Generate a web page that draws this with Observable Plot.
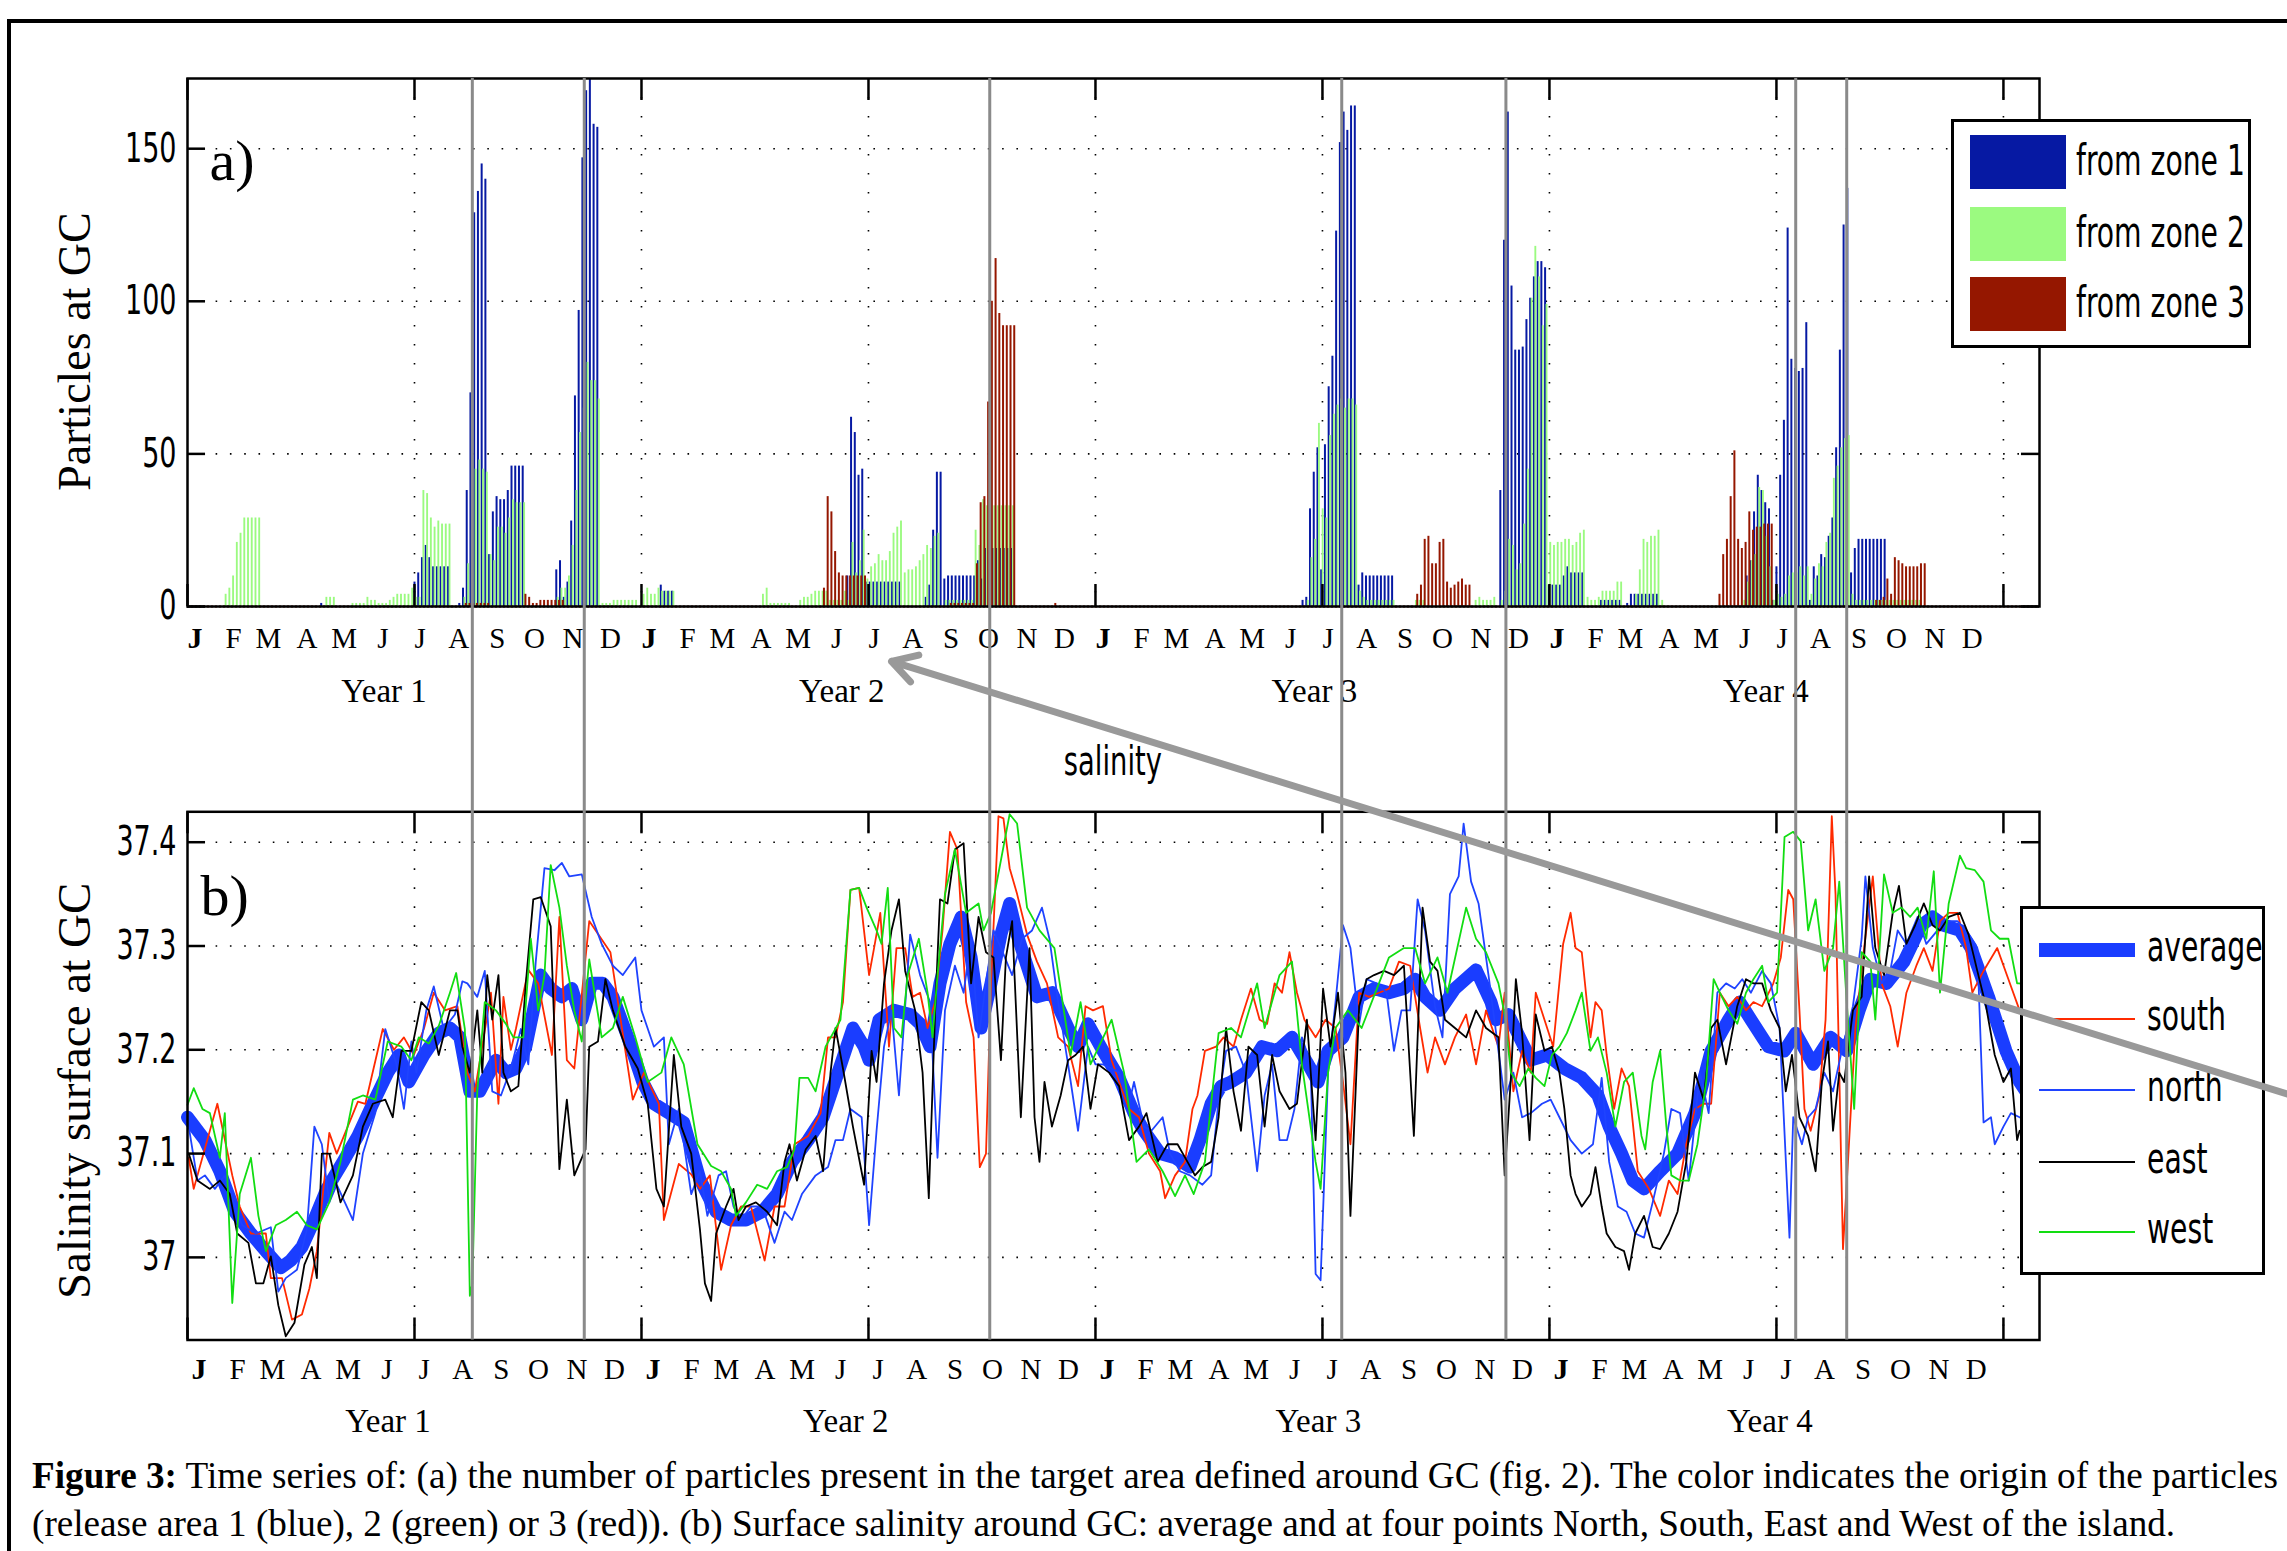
<!DOCTYPE html>
<html><head><meta charset="utf-8">
<script src="https://cdn.jsdelivr.net/npm/d3@7"></script>
<script src="https://cdn.jsdelivr.net/npm/@observablehq/plot@0.6"></script>
<style>
html,body{margin:0;padding:0;background:#fff;}
#fig{position:relative;width:2287px;height:1551px;overflow:hidden;background:#fff;}
#fig > svg{position:absolute;left:0;}
.lg{position:absolute;box-sizing:border-box;border:3px solid #000;background:#fff;}
.lgtext{position:absolute;font-family:"Liberation Sans Narrow","Arial Narrow","DejaVu Sans Condensed",sans-serif;font-size:43px;line-height:1;white-space:nowrap;color:#000;transform:scaleX(0.73);transform-origin:0 50%;}
#caption{position:absolute;left:32px;top:1452px;font-family:"Liberation Serif","Times New Roman",serif;font-size:37.2px;line-height:48px;white-space:nowrap;color:#000;}
#outer{position:absolute;left:7px;top:19px;width:2400px;height:1700px;border:4px solid #000;box-sizing:border-box;}
</style></head><body><div id="fig"><div id="outer"></div></div><script>
const W = 2287, H = 1551;
const SERIF = '"Liberation Serif","Times New Roman",serif';
const NARROW = '"Liberation Sans Narrow","Arial Narrow","DejaVu Sans Condensed",sans-serif';

// ---- labels / ticks ----
const monthLetters = ["J","F","M","A","M","J","J","A","S","O","N","D"];
const monthStartDays = [0,31,59,90,120,151,181,212,243,273,304,334];
const yearNames = ["Year 1","Year 2","Year 3","Year 4"];
const yearLabelDays = [158, 526, 906, 1269];
const gridDays = [0,182.5,365,547.5,730,912.5,1095,1277.5,1460];
const eventDays = [229,319,645,928,1060,1293,1334];
const particleTicks = [0,50,100,150];
const salinityTicks = [37,37.1,37.2,37.3,37.4];
const zoneNames = ["from zone 1","from zone 2","from zone 3"];
const zoneColors = ["#0619a3","#9bfa80","#951700"];
const seriesNames = ["average","south","north","east","west"];
const seriesColors = ["#1a3dff","#ff2a00","#1f43ff","#000000","#12dd12"];

// ---- panel a: particles, runs of 3-day samples [first sample index, values] ----
const zone1Runs = [[36,[1]],[61,[8,11,16,20,16,13,13,13,13,13]],[73,[1,6,38,70,129,136,145,140,17,31,36,35,35,38,46,46,46,46]],[99,[12,15,3,8,28,69,97,147,169,173,158,157]],[127,[7,5,5,5]],[177,[10,62,57,43,45,8,8,8,8,8,8,8,8,8,8]],[198,[3,7,25,44,44,9,10,10,10,10,10,10,10,10,15,9,19,19,19,19,19,19,19,19]],[299,[2,3,32,44,52,12,53,72,82,123,152,162,156,164,164,7,11,10,10,10,10,10,10,10,10]],[352,[38,120,162,105,84,84,85,94,101,108,113,113,111,7,7,7,7,10,13,11,11,11,11]],[379,[2,2,2,2,2,2]],[386,[1,4,4,4,4,4,4,4,4]],[418,[10,15,31,43,38,34,32,2,13,43,61,124,81,78,77,78,93,2,13,10,17,16,23,29,52,84,125,137,11,19,22,22,22,22,22,22,22,22]]];
const zone2Runs = [[10,[4,6,10,21,24,29,29,29,29,29]],[37,[3,3,3]],[44,[1,1,1,1,3,2,2,1,1,1,2,3,4,4,4,4,6]],[61,[3,3,38,37,29,26,28,27,27,27]],[74,[3,14,25,45,48,45,44,17,15,26,26,24,29,35,34,34,34]],[99,[3,6,6,10,20,38,57,65,80,74,74,68,1,1,1,2,2,2,2,2,2,2]],[122,[4,6,4,4,6,5,5,5,5]],[154,[4,6,1,1,1,1,1,1]],[164,[2,3,3,4,5,5,5,5,2,2,2,2,5,2,21,11,15,25,9,13,14,17,15,15,18,24,26,28,11,12,12,13,15,17,20,19,23,24]],[203,[2,2,2,2,2,2,2,2,25,20,35,33,33,33,33,33,33,33,33]],[300,[2,16,22,60,32,29,56,63,66,68,65,68,68,66,5,3,2,2,2,2,2,2,2,2]],[329,[2,2,2]],[345,[2,3,2,2,2,3]],[352,[2,5,22,20,12,14,27,45,101,118,108,92,99,21,20,21,21,22,22,20,21,24,25,3,2,2,3,5,5,5,5,8,8]],[388,[4,12,22,21,23,23,25,2]],[417,[2,8,15,17,39,38,23,13,2,4,3,4,10,11,11,13,10,13,4,9,14,13,21,24,42,46,52,55,56,4,2,2,2,2,2,2,2,2,2,2,2,2,2,2,2,2,2,2]]];
const zone3Runs = [[74,[1,1,1,1,1,1,1]],[90,[4,3,1,1,2,2,2,2,2,2,2]],[170,[6,36,31,18,11,10,10,10,10,10,10,10]],[204,[1,1,1,1,1,1,1,14,34,36,67,100,114,96,92,92,92,92]],[232,[1]],[329,[4,7,22,23,14,14,21,22,8,6,7,8,9,7,7]],[410,[4,17,22,36,51,22,19,21,31,25,26,26,27,27,27]],[452,[2,2,3,9,4,16,15,14,13,13,13,13,14,14]]];

// ---- panel b: salinity series [day, value] ----
const average = [[0,37.135],[14,37.113],[26,37.083],[38,37.044],[51,37.023],[63,37.006],[75,36.99],[83,36.997],[92,37.01],[100,37.031],[112,37.066],[125,37.092],[137,37.117],[149,37.148],[161,37.178],[170,37.195],[178,37.169],[190,37.195],[202,37.216],[211,37.221],[219,37.212],[227,37.16],[235,37.16],[248,37.19],[256,37.178],[264,37.182],[272,37.203],[284,37.272],[292,37.259],[301,37.251],[309,37.259],[317,37.229],[325,37.264],[334,37.264],[342,37.251],[354,37.212],[366,37.169],[375,37.148],[387,37.139],[399,37.13],[412,37.075],[425,37.044],[437,37.036],[449,37.036],[462,37.044],[474,37.061],[486,37.092],[499,37.113],[511,37.135],[523,37.178],[535,37.221],[544,37.203],[548,37.19],[556,37.229],[568,37.238],[581,37.234],[589,37.225],[597,37.203],[605,37.264],[613,37.302],[622,37.328],[630,37.289],[638,37.221],[646,37.264],[654,37.311],[661,37.341],[667,37.311],[675,37.281],[683,37.251],[695,37.255],[708,37.221],[716,37.203],[724,37.225],[736,37.199],[749,37.173],[761,37.139],[769,37.122],[782,37.1],[794,37.096],[806,37.087],[814,37.113],[823,37.148],[831,37.165],[839,37.169],[851,37.178],[864,37.203],[876,37.199],[888,37.212],[901,37.186],[909,37.169],[917,37.199],[929,37.212],[942,37.251],[954,37.259],[966,37.255],[978,37.259],[987,37.268],[995,37.251],[1007,37.238],[1019,37.259],[1036,37.277],[1048,37.246],[1052,37.229],[1062,37.234],[1071,37.212],[1080,37.19],[1093,37.195],[1107,37.182],[1121,37.173],[1134,37.156],[1143,37.126],[1153,37.1],[1162,37.074],[1171,37.066],[1184,37.083],[1198,37.1],[1212,37.139],[1225,37.199],[1239,37.229],[1248,37.246],[1257,37.229],[1271,37.203],[1284,37.199],[1293,37.216],[1307,37.186],[1321,37.212],[1334,37.199],[1344,37.238],[1353,37.268],[1366,37.264],[1380,37.285],[1394,37.32],[1403,37.328],[1412,37.32],[1425,37.315],[1434,37.298],[1448,37.251],[1462,37.199],[1473,37.169],[1489,37.14]];
const south = [[1,37.096],[5,37.066],[24,37.148],[36,37.079],[42,37.049],[51,37.023],[63,37.023],[67,36.98],[76,36.98],[84,36.94],[92,36.945],[98,36.97],[104,37.006],[114,37.12],[120,37.1],[137,37.15],[143,37.148],[157,37.22],[166,37.2],[174,37.212],[182,37.195],[190,37.22],[198,37.255],[207,37.238],[217,37.242],[225,37.178],[231,37.16],[244,37.255],[250,37.148],[254,37.251],[260,37.2],[264,37.22],[274,37.277],[282,37.264],[293,37.195],[299,37.328],[305,37.19],[311,37.182],[323,37.324],[340,37.294],[358,37.152],[367,37.178],[379,37.148],[383,37.036],[395,37.09],[405,37.08],[412,37.066],[420,37.079],[429,36.988],[437,37.031],[445,37.049],[453,37.049],[464,36.997],[472,37.049],[480,37.049],[488,37.109],[499,37.117],[509,37.139],[515,37.212],[521,37.212],[527,37.246],[533,37.354],[540,37.356],[548,37.272],[552,37.298],[557,37.332],[564,37.203],[570,37.298],[577,37.298],[583,37.251],[589,37.255],[595,37.221],[601,37.246],[607,37.315],[613,37.41],[619,37.393],[626,37.246],[632,37.212],[637,37.087],[642,37.1],[646,37.264],[652,37.425],[656,37.423],[661,37.375],[667,37.35],[675,37.311],[683,37.285],[691,37.264],[700,37.212],[708,37.203],[716,37.165],[722,37.242],[728,37.238],[736,37.242],[743,37.19],[749,37.169],[757,37.143],[765,37.135],[773,37.1],[782,37.083],[786,37.057],[794,37.079],[802,37.092],[808,37.143],[812,37.156],[818,37.199],[827,37.203],[833,37.212],[841,37.203],[847,37.229],[855,37.259],[862,37.229],[868,37.225],[874,37.264],[880,37.255],[886,37.294],[892,37.255],[898,37.229],[907,37.212],[915,37.229],[923,37.221],[929,37.169],[935,37.109],[942,37.255],[950,37.251],[958,37.255],[966,37.259],[974,37.285],[983,37.281],[991,37.221],[997,37.178],[1003,37.212],[1011,37.186],[1019,37.212],[1028,37.234],[1036,37.186],[1044,37.238],[1054,37.203],[1059,37.255],[1066,37.16],[1073,37.199],[1080,37.178],[1084,37.255],[1091,37.229],[1098,37.203],[1106,37.302],[1112,37.332],[1116,37.298],[1121,37.294],[1128,37.212],[1132,37.246],[1137,37.238],[1141,37.195],[1147,37.143],[1153,37.182],[1159,37.165],[1166,37.083],[1175,37.066],[1184,37.04],[1191,37.074],[1198,37.061],[1205,37.109],[1212,37.143],[1219,37.148],[1225,37.148],[1232,37.255],[1239,37.242],[1246,37.251],[1253,37.238],[1259,37.246],[1266,37.242],[1275,37.264],[1281,37.289],[1287,37.354],[1291,37.345],[1296,37.238],[1300,37.143],[1305,37.122],[1312,37.156],[1317,37.229],[1322,37.425],[1325,37.35],[1331,37.008],[1335,37.092],[1341,37.221],[1348,37.298],[1355,37.367],[1362,37.264],[1369,37.242],[1375,37.203],[1382,37.255],[1390,37.281],[1396,37.298],[1403,37.276],[1409,37.324],[1416,37.332],[1423,37.332],[1430,37.298],[1435,37.255],[1444,37.276],[1455,37.298],[1464,37.268],[1473,37.238],[1489,37.2]];
const north = [[1,37.126],[8,37.074],[14,37.079],[22,37.066],[30,37.079],[38,37.049],[44,37.031],[55,37.023],[67,37.029],[73,36.967],[79,36.98],[88,36.988],[96,37.027],[102,37.126],[108,37.109],[114,37.053],[120,37.07],[133,37.036],[141,37.1],[151,37.139],[159,37.22],[168,37.186],[174,37.143],[180,37.208],[184,37.178],[192,37.238],[198,37.261],[206,37.22],[215,37.234],[221,37.266],[225,37.264],[233,37.251],[239,37.276],[245,37.16],[252,37.156],[260,37.182],[268,37.22],[274,37.186],[280,37.285],[287,37.375],[295,37.373],[301,37.38],[307,37.367],[317,37.369],[325,37.328],[333,37.302],[342,37.281],[350,37.272],[360,37.289],[365,37.238],[375,37.203],[383,37.212],[387,37.109],[395,37.143],[405,37.061],[412,37.083],[418,37.04],[427,37.079],[433,37.083],[439,37.049],[445,37.036],[453,37.049],[462,37.049],[472,37.014],[480,37.044],[486,37.036],[494,37.061],[505,37.079],[515,37.087],[521,37.113],[527,37.113],[533,37.143],[542,37.135],[548,37.031],[554,37.122],[560,37.203],[566,37.238],[572,37.156],[581,37.311],[589,37.272],[597,37.246],[603,37.096],[609,37.238],[617,37.281],[624,37.255],[630,37.307],[636,37.212],[642,37.264],[648,37.315],[654,37.298],[663,37.272],[671,37.307],[679,37.315],[687,37.337],[693,37.307],[700,37.246],[708,37.186],[716,37.122],[724,37.203],[730,37.186],[736,37.186],[743,37.182],[749,37.178],[757,37.148],[761,37.169],[769,37.126],[775,37.122],[784,37.135],[790,37.1],[798,37.083],[806,37.079],[816,37.07],[823,37.079],[829,37.152],[835,37.199],[843,37.203],[851,37.178],[860,37.083],[866,37.156],[872,37.186],[878,37.113],[884,37.113],[890,37.143],[896,37.212],[903,37.186],[907,36.984],[911,36.978],[917,37.178],[923,37.246],[929,37.32],[935,37.298],[942,37.225],[948,37.268],[956,37.264],[964,37.255],[970,37.199],[976,37.238],[983,37.238],[989,37.345],[995,37.315],[1003,37.242],[1009,37.212],[1015,37.35],[1022,37.367],[1026,37.418],[1032,37.362],[1038,37.341],[1046,37.272],[1054,37.199],[1059,37.152],[1066,37.178],[1073,37.135],[1080,37.139],[1089,37.148],[1096,37.152],[1103,37.135],[1112,37.113],[1121,37.1],[1130,37.109],[1137,37.173],[1143,37.092],[1150,37.049],[1157,37.044],[1164,37.023],[1171,37.019],[1178,37.053],[1187,37.1],[1193,37.143],[1200,37.139],[1207,37.074],[1216,37.178],[1223,37.139],[1230,37.255],[1237,37.264],[1244,37.259],[1250,37.268],[1257,37.255],[1266,37.276],[1273,37.264],[1280,37.221],[1288,37.019],[1291,37.135],[1298,37.109],[1303,37.135],[1309,37.143],[1316,37.178],[1323,37.16],[1330,37.199],[1339,37.242],[1346,37.307],[1349,37.367],[1355,37.298],[1362,37.264],[1369,37.276],[1375,37.315],[1382,37.302],[1391,37.328],[1398,37.302],[1407,37.315],[1414,37.324],[1423,37.324],[1430,37.315],[1439,37.298],[1444,37.13],[1450,37.135],[1453,37.109],[1460,37.126],[1466,37.139],[1473,37.135],[1489,37.13]];
const east = [[1,37.1],[8,37.074],[18,37.066],[26,37.074],[34,37.061],[40,37.023],[49,37.014],[55,36.975],[61,36.975],[67,37.001],[73,36.954],[79,36.924],[86,36.937],[94,36.993],[100,37.01],[104,36.98],[108,37.1],[114,37.1],[123,37.053],[133,37.079],[141,37.126],[149,37.148],[159,37.152],[165,37.135],[172,37.199],[180,37.199],[188,37.246],[194,37.238],[202,37.195],[211,37.238],[217,37.238],[221,37.203],[227,37.178],[233,37.238],[237,37.178],[241,37.272],[245,37.229],[250,37.272],[254,37.178],[260,37.16],[266,37.165],[272,37.264],[278,37.345],[284,37.347],[292,37.319],[299,37.085],[305,37.152],[311,37.079],[320,37.104],[323,37.203],[330,37.208],[336,37.268],[342,37.238],[352,37.203],[362,37.182],[370,37.148],[377,37.066],[383,37.049],[391,37.195],[397,37.126],[405,37.1],[412,37.027],[416,36.975],[421,36.958],[425,37.023],[433,37.049],[439,37.066],[443,37.036],[449,37.049],[457,37.053],[466,37.044],[474,37.031],[480,37.092],[484,37.109],[490,37.074],[497,37.104],[505,37.117],[511,37.083],[517,37.178],[521,37.221],[527,37.182],[535,37.126],[544,37.07],[550,37.199],[554,37.169],[560,37.264],[566,37.315],[572,37.345],[577,37.276],[585,37.238],[591,37.178],[596,37.057],[601,37.234],[605,37.345],[611,37.341],[617,37.393],[624,37.399],[630,37.264],[636,37.328],[642,37.294],[648,37.289],[654,37.19],[658,37.289],[663,37.324],[670,37.135],[677,37.298],[681,37.135],[685,37.092],[689,37.169],[695,37.126],[702,37.156],[708,37.19],[714,37.195],[720,37.203],[726,37.143],[732,37.186],[741,37.178],[749,37.165],[757,37.113],[765,37.126],[771,37.139],[780,37.092],[788,37.109],[796,37.109],[804,37.092],[810,37.079],[816,37.087],[823,37.092],[829,37.135],[835,37.221],[841,37.16],[847,37.122],[853,37.203],[860,37.195],[866,37.126],[872,37.195],[878,37.16],[886,37.143],[892,37.148],[900,37.229],[907,37.113],[913,37.259],[919,37.203],[925,37.255],[931,37.178],[935,37.04],[942,37.242],[948,37.268],[954,37.272],[962,37.276],[970,37.272],[978,37.281],[986,37.117],[993,37.337],[999,37.285],[1005,37.276],[1011,37.229],[1019,37.221],[1028,37.212],[1036,37.238],[1044,37.221],[1054,37.212],[1059,37.079],[1064,37.173],[1068,37.268],[1073,37.216],[1079,37.113],[1084,37.234],[1091,37.199],[1097,37.203],[1103,37.178],[1107,37.143],[1112,37.079],[1116,37.061],[1121,37.049],[1128,37.061],[1132,37.087],[1137,37.049],[1141,37.023],[1148,37.01],[1155,37.006],[1159,36.988],[1164,37.023],[1171,37.04],[1178,37.01],[1184,37.008],[1191,37.023],[1198,37.044],[1205,37.092],[1212,37.178],[1219,37.152],[1225,37.221],[1230,37.229],[1237,37.186],[1246,37.242],[1253,37.268],[1259,37.264],[1266,37.264],[1273,37.238],[1280,37.221],[1285,37.16],[1290,37.195],[1296,37.135],[1303,37.117],[1309,37.083],[1314,37.169],[1319,37.208],[1323,37.122],[1328,37.178],[1332,37.169],[1339,37.238],[1346,37.251],[1352,37.367],[1357,37.298],[1364,37.272],[1371,37.332],[1376,37.358],[1382,37.302],[1389,37.32],[1396,37.341],[1403,37.32],[1409,37.315],[1416,37.328],[1425,37.332],[1432,37.311],[1439,37.276],[1446,37.242],[1453,37.195],[1460,37.169],[1466,37.182],[1471,37.113],[1473,37.122],[1489,37.13]];
const west = [[0,37.147],[5,37.163],[12,37.143],[18,37.139],[26,37.096],[30,37.139],[36,36.956],[42,37.061],[51,37.096],[57,37.04],[63,37.006],[71,37.031],[79,37.036],[88,37.044],[96,37.031],[104,37.027],[114,37.053],[123,37.092],[133,37.152],[141,37.156],[151,37.152],[161,37.208],[172,37.203],[180,37.19],[186,37.212],[194,37.206],[202,37.223],[211,37.255],[216,37.274],[223,37.22],[227,36.963],[229,36.975],[233,37.16],[239,37.246],[248,37.238],[256,37.225],[262,37.212],[270,37.212],[276,37.307],[282,37.238],[287,37.272],[292,37.378],[299,37.337],[305,37.281],[311,37.238],[317,37.208],[323,37.287],[333,37.212],[342,37.221],[350,37.251],[360,37.212],[370,37.169],[381,37.178],[389,37.212],[399,37.186],[410,37.109],[421,37.088],[429,37.083],[437,37.066],[441,37.04],[449,37.053],[458,37.07],[466,37.066],[474,37.083],[482,37.087],[488,37.104],[492,37.173],[499,37.173],[505,37.16],[513,37.203],[525,37.229],[533,37.354],[540,37.356],[546,37.337],[554,37.315],[558,37.302],[563,37.356],[568,37.221],[574,37.212],[579,37.272],[588,37.307],[595,37.255],[599,37.212],[603,37.272],[609,37.35],[617,37.393],[626,37.332],[636,37.341],[640,37.315],[646,37.332],[661,37.427],[667,37.418],[675,37.337],[685,37.315],[697,37.298],[710,37.195],[718,37.246],[726,37.186],[743,37.229],[753,37.178],[763,37.092],[773,37.104],[784,37.083],[794,37.059],[802,37.079],[809,37.061],[818,37.092],[829,37.216],[839,37.221],[847,37.212],[860,37.264],[866,37.221],[878,37.272],[888,37.285],[896,37.186],[907,37.092],[911,37.066],[917,37.178],[923,37.221],[933,37.238],[944,37.221],[966,37.289],[978,37.298],[987,37.298],[995,37.264],[1005,37.289],[1013,37.255],[1028,37.337],[1036,37.307],[1044,37.294],[1054,37.264],[1059,37.234],[1064,37.178],[1071,37.165],[1078,37.182],[1084,37.173],[1091,37.165],[1097,37.195],[1103,37.203],[1109,37.216],[1116,37.238],[1121,37.255],[1128,37.199],[1134,37.212],[1141,37.178],[1148,37.126],[1155,37.169],[1162,37.178],[1169,37.117],[1172,37.104],[1178,37.169],[1184,37.199],[1189,37.126],[1193,37.079],[1200,37.074],[1207,37.074],[1214,37.109],[1221,37.169],[1227,37.268],[1232,37.255],[1239,37.238],[1246,37.225],[1253,37.255],[1259,37.268],[1266,37.281],[1271,37.246],[1278,37.255],[1284,37.405],[1291,37.41],[1297,37.401],[1303,37.315],[1309,37.345],[1316,37.276],[1323,37.298],[1328,37.362],[1334,37.246],[1340,37.143],[1346,37.294],[1353,37.285],[1357,37.229],[1364,37.369],[1371,37.332],[1378,37.337],[1385,37.328],[1391,37.337],[1398,37.307],[1404,37.372],[1409,37.255],[1416,37.341],[1425,37.387],[1430,37.375],[1437,37.373],[1444,37.362],[1450,37.315],[1457,37.307],[1464,37.307],[1471,37.264],[1473,37.264],[1489,37.25]];

// ---- annotation ----
const arrowNote = {fromDay: 1688, fromFrac: 0.805, toDay: 566, toFrac: 0.462};
const noteLabel = {day: 744, frac: 0.542, text: "salinity"};

// ---- build ----
const xDomain = [0, 1489];
function expand(runs){const out=[];for(const [k0,vals] of runs) vals.forEach((v,i)=>out.push({day:1+3*(k0+i),v}));return out;}
const z1 = expand(zone1Runs), z2 = expand(zone2Runs), z3 = expand(zone3Runs);
const monthTicks = [];
for (let y = 0; y < 4; y++) for (let m = 0; m < 12; m++) monthTicks.push({day: y*365 + monthStartDays[m] + 6, label: monthLetters[m], first: m === 0});

function gridMarks(yMin, yMax, yticks){
  return [
    Plot.ruleY(yticks.filter(t => t > yMin && t < yMax), {stroke:"#000", strokeWidth:1.6, strokeDasharray:"1.6,12.7"}),
    Plot.ruleX(gridDays.slice(1), {stroke:"#000", strokeWidth:1.6, strokeDasharray:"1.6,17.4"})
  ];
}
function frameMarks(yMin, yMax, yticks, tickLenY, fmt, o){
  return [
    Plot.ruleY(yticks, {x1: 0, x2: 14.5, stroke:"#000", strokeWidth:2.5}),
    Plot.ruleY(yticks, {x1: xDomain[1]-14.5, x2: xDomain[1], stroke:"#000", strokeWidth:2.5}),
    Plot.ruleX(gridDays, {y1: yMin, y2: yMin + tickLenY, stroke:"#000", strokeWidth:2.5}),
    Plot.ruleX(gridDays, {y1: yMax - tickLenY, y2: yMax, stroke:"#000", strokeWidth:2.5}),
    Plot.frame({stroke:"#000", strokeWidth:2.5}),
    Plot.text(monthTicks.filter(d => !d.first), {x:"day", text:"label", frameAnchor:"bottom", dx:o.mdx, dy:o.mdy, fontSize:29, fontFamily:SERIF, lineAnchor:"middle"}),
    Plot.text(monthTicks.filter(d => d.first), {x:"day", text:"label", frameAnchor:"bottom", dx:o.mdx, dy:o.mdy, fontSize:30, fontWeight:"bold", fontFamily:SERIF, lineAnchor:"middle"}),
    Plot.text(yearNames, {x:(d,i) => yearLabelDays[i], text:d => d, frameAnchor:"bottom", dx:o.mdx, dy:o.ydy, fontSize:33, fontFamily:SERIF, lineAnchor:"middle"}),
    Plot.text(yticks, {y:d => d, text:fmt, frameAnchor:"left", dx:-11, textAnchor:"end", fontSize:40, fontFamily:NARROW, lineAnchor:"middle"}),
    Plot.text([o.ylabel], {text:d => d, frameAnchor:"left", dx:o.ldx, dy:o.ldy, rotate:-90, textAnchor:"middle", fontSize:o.lfs, fontFamily:SERIF, lineAnchor:"middle"}),
    Plot.text([o.tag], {text:d => d, frameAnchor:"top-left", dx:o.tdx, dy:o.tdy, textAnchor:"start", fontSize:58, fontFamily:SERIF, lineAnchor:"middle"})
  ];
}
// condense the sans-serif (Helvetica Narrow–like) texts horizontally around their anchor
function narrowize(svg, k){
  svg.querySelectorAll('g[font-family*="Narrow"] text').forEach(t => {
    const tr = t.getAttribute("transform");
    if (tr) t.setAttribute("transform", tr + " scale(" + k + ",1)");
  });
}

const fig = document.getElementById("fig");

const panelA = Plot.plot({
  width: W, height: 720, marginLeft: 187, marginRight: W-2039, marginTop: 78, marginBottom: 114,
  x: {domain: xDomain, axis: null},
  y: {domain: [0, 173], axis: null},
  style: {background: "transparent", overflow: "visible"},
  marks: [
    ...gridMarks(0, 173, particleTicks),
    Plot.rect(z1, {x1: d => d.day-1.9, x2: d => d.day-0.3, y1: 0, y2: "v", fill: zoneColors[0]}),
    Plot.rect(z2, {x1: d => d.day-0.7, x2: d => d.day+0.8, y1: 0, y2: "v", fill: zoneColors[1]}),
    Plot.rect(z3, {x1: d => d.day+0.3, x2: d => d.day+1.9, y1: 0, y2: "v", fill: zoneColors[2]}),
    Plot.ruleY([0], {stroke:"#6b0b00", strokeWidth:2, strokeDasharray:"2,2"}),
    ...frameMarks(0, 173, particleTicks, 7.2, d => String(d), {mdx:0, mdy:32, ydy:85, ylabel:"Particles at GC", ldx:-112, ldy:9, lfs:46, tag:"a)", tdx:22, tdy:83})
  ]
});
narrowize(panelA, 0.75);
panelA.style.top = "0px";
fig.appendChild(panelA);

const sal = (arr) => arr.map(([day, v]) => ({day, v}));
const yB = [36.9204, 37.4293];
const panelB = Plot.plot({
  width: W, height: 700, marginLeft: 187, marginRight: W-2039, marginTop: 51.3, marginBottom: 120.5,
  x: {domain: xDomain, axis: null},
  y: {domain: yB, axis: null},
  style: {background: "transparent", overflow: "visible"},
  marks: [
    ...gridMarks(yB[0], yB[1], salinityTicks),
    Plot.line(sal(average), {x:"day", y:"v", stroke: seriesColors[0], strokeWidth: 13, strokeLinejoin:"round", strokeLinecap:"round"}),
    Plot.line(sal(south), {x:"day", y:"v", stroke: seriesColors[1], strokeWidth: 1.8}),
    Plot.line(sal(north), {x:"day", y:"v", stroke: seriesColors[2], strokeWidth: 1.8}),
    Plot.line(sal(east), {x:"day", y:"v", stroke: seriesColors[3], strokeWidth: 1.8}),
    Plot.line(sal(west), {x:"day", y:"v", stroke: seriesColors[4], strokeWidth: 1.8}),
    ...frameMarks(yB[0], yB[1], salinityTicks, 0.0212, d => d === 37 ? "37" : d.toFixed(1), {mdx:4, mdy:29.5, ydy:81, ylabel:"Salinity surface at GC", ldx:-113, ldy:15, lfs:47, tag:"b)", tdx:13, tdy:85})
  ]
});
narrowize(panelB, 0.75);
panelB.style.top = "760px";
fig.appendChild(panelB);

// legends
function addLegendA(){
  const box = document.createElement("div");
  box.className = "lg";
  Object.assign(box.style, {left:"1951px", top:"119px", width:"300px", height:"229px"});
  const rowTops = [13, 85, 155];
  zoneNames.forEach((name, i) => {
    const sw = document.createElement("div");
    Object.assign(sw.style, {position:"absolute", left:"16px", top:rowTops[i]+"px", width:"96px", height:"54px", background: zoneColors[i]});
    box.appendChild(sw);
    const t = document.createElement("div");
    t.className = "lgtext"; t.textContent = name;
    Object.assign(t.style, {left:"122px", top:(rowTops[i]+27-23)+"px"});
    box.appendChild(t);
  });
  fig.appendChild(box);
}
function addLegendB(){
  const box = document.createElement("div");
  box.className = "lg";
  Object.assign(box.style, {left:"2020px", top:"906px", width:"245px", height:"369px"});
  const rowC = [40.7, 110, 181, 253, 323];
  seriesNames.forEach((name, i) => {
    const th = i === 0 ? 14 : 2;
    const ln = document.createElement("div");
    Object.assign(ln.style, {position:"absolute", left:"16px", top:(rowC[i]-th/2)+"px", width:"96px", height:th+"px", background: seriesColors[i]});
    box.appendChild(ln);
    const t = document.createElement("div");
    t.className = "lgtext"; t.textContent = name;
    Object.assign(t.style, {left:"124px", top:(rowC[i]-25)+"px"});
    box.appendChild(t);
  });
  fig.appendChild(box);
}
addLegendA();
addLegendB();

// overlay: event lines, arrow, note
const overlay = Plot.plot({
  width: W, height: H, marginLeft: 187, marginRight: W-2039, marginTop: 78, marginBottom: H-1339.5,
  x: {domain: xDomain, axis: null},
  y: {domain: [0, 1], range: [78, 1339.5], axis: null},
  style: {background: "transparent", overflow: "visible"},
  marks: [
    Plot.ruleX(eventDays, {stroke:"#8a8a8a", strokeWidth:3}),
    Plot.arrow([arrowNote], {x1:"fromDay", y1:"fromFrac", x2:"toDay", y2:"toFrac", stroke:"#999999", strokeWidth:7, headLength:6}),
    Plot.text([noteLabel], {x:"day", y:"frac", text:"text", fontSize:40, fontFamily:NARROW, lineAnchor:"middle"})
  ]
});
narrowize(overlay, 0.76);
overlay.style.top = "0px";
fig.appendChild(overlay);

// caption
const cap = document.createElement("div");
cap.id = "caption";
cap.innerHTML = "<b>Figure 3:</b> Time series of: (a) the number of particles present in the target area defined around GC (fig. 2). The color indicates the origin of the particles<br>(release area 1 (blue), 2 (green) or 3 (red)). (b) Surface salinity around GC: average and at four points North, South, East and West of the island.";
fig.appendChild(cap);
</script></body></html>
